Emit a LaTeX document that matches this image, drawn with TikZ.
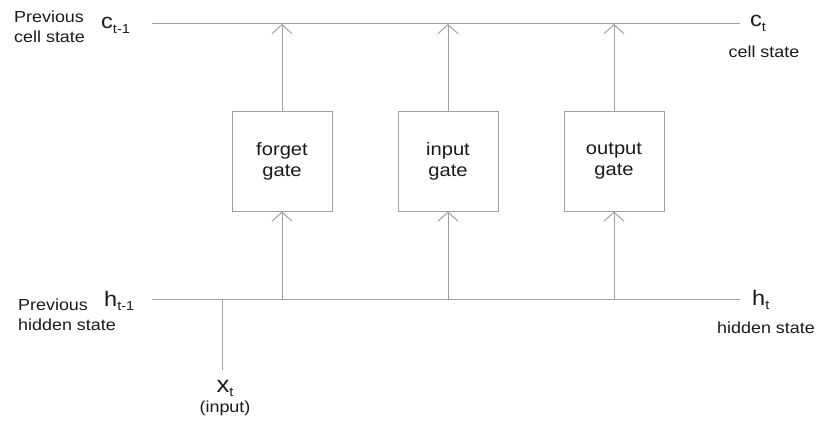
\documentclass[tikz,border=0pt]{standalone}
\usepackage{fontspec}
\setmainfont[FakeStretch=1.12]{Liberation Sans}
\usetikzlibrary{arrows.meta}
\definecolor{ln}{HTML}{A0A0A0}
\definecolor{tx}{HTML}{1A1A1A}
\newcommand{\mysub}[1]{\raisebox{-4.5pt}{\fontsize{13}{14}\selectfont #1}}
\tikzset{
  wire/.style={draw=ln, line width=1pt},
  arr/.style={wire, -{Straight Barb[length=9pt,width=20pt,line width=1pt]}},
  gatebox/.style={draw=ln, line width=1pt, minimum width=100pt, minimum height=100pt, inner sep=0pt, align=center, font=\fontsize{18}{21}\selectfont, text=tx},
  lbl/.style={inner sep=0pt, text=tx, font=\fontsize{16}{20}\selectfont},
  sym/.style={inner sep=0pt, text=tx, font=\fontsize{21}{24}\selectfont},
}
\begin{document}
\begin{tikzpicture}[x=1pt,y=-1pt]
\useasboundingbox (0,0) rectangle (825,436);
% lines
\coordinate (cL) at (152,24);
\coordinate (cR) at (740,24);
\coordinate (hL) at (152,299);
\coordinate (hR) at (740,299);
\draw[wire] (cL) -- (cR);
\draw[wire] (hL) -- (hR);
% gates
\node[gatebox] (fg) at (282,161) {forget\\gate};
\node[gatebox] (ig) at (448,161) {input\\gate};
\node[gatebox] (og) at (614,161) {output\\gate};
% connectors
\foreach \g in {fg,ig,og}{
  \coordinate (\g t) at (\g.north |- cL);
  \coordinate (\g b) at (\g.south |- hL);
  \draw[arr] (\g.north) -- (\g t);
  \draw[arr] (\g b) -- (\g.south);
}
% x input
\coordinate (xj) at (222,299);
\coordinate (xe) at (222,370);
\draw[wire] (xj) -- (xe);
\node[sym, anchor=base, font=\fontsize{23}{24}\selectfont] (xt) at (225,392) {x\mysub{t}};
\node[lbl, anchor=base] (xin) at (225,412) {(input)};
% left labels
\node[lbl, anchor=base west, align=left] (pcs) at (14,43) {Previous\\cell state};
\node[sym, anchor=base west] (ctm) at (101,29) {c\mysub{t-1}};
\node[sym, anchor=base west] (htm) at (104,306) {h\mysub{t-1}};
\node[lbl, anchor=base west, align=left] (phs) at (18,330) {Previous\\hidden state};
% right labels
\node[sym, anchor=base west] (ct) at (750,27) {c\mysub{t}};
\node[lbl, anchor=base] (cs) at (764,58) {cell state};
\node[sym, anchor=base west] (ht) at (752,305) {h\mysub{t}};
\node[lbl, anchor=base] (hs) at (766,333) {hidden state};
\end{tikzpicture}
\end{document}
